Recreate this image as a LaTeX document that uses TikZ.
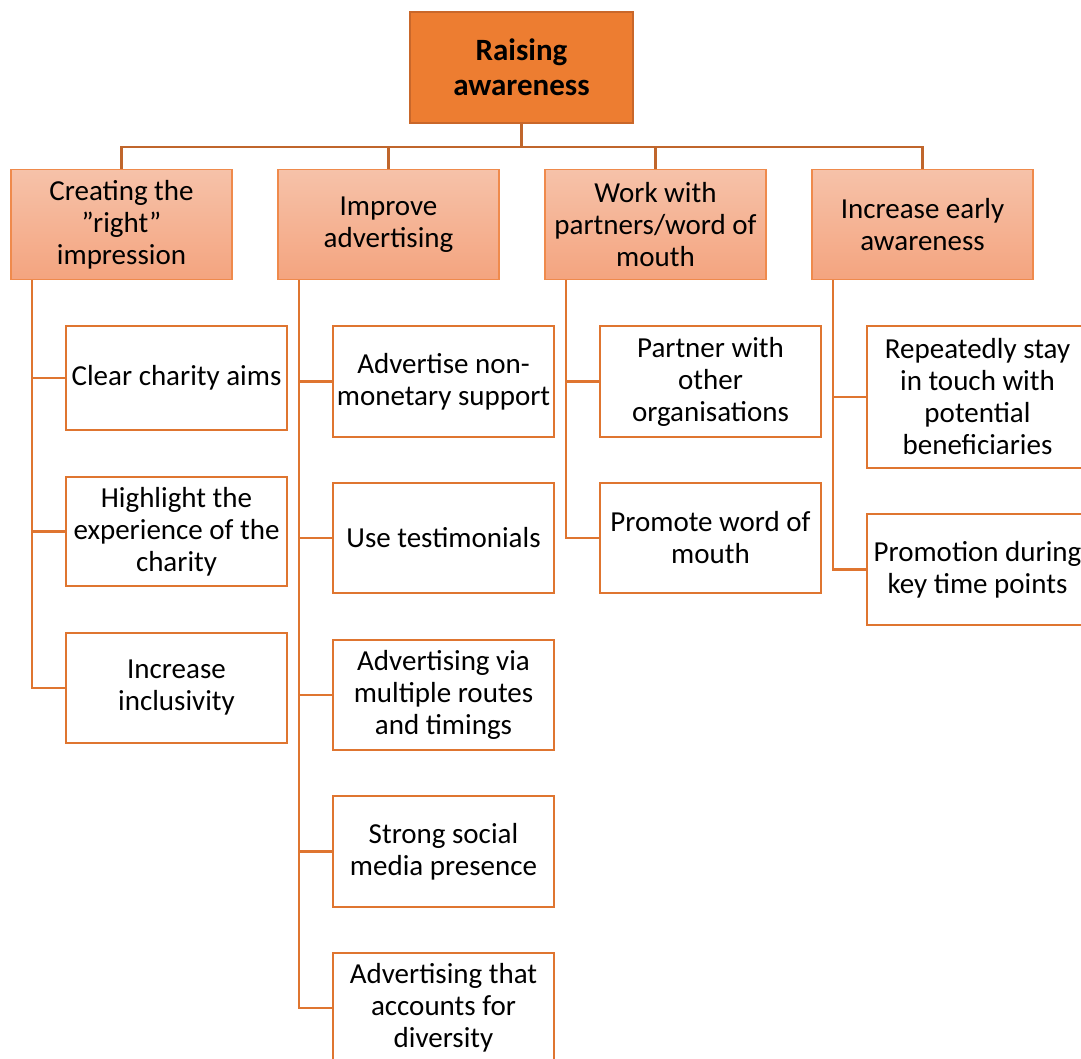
\documentclass[tikz,border=0pt]{standalone}
\usepackage{fontspec}
\setmainfont{Carlito}
\usetikzlibrary{calc}
\definecolor{topfill}{HTML}{ED7D31}
\definecolor{topline}{HTML}{C9672A}
\definecolor{barline}{HTML}{C0662C}
\definecolor{headtop}{HTML}{F6C2A9}
\definecolor{headbot}{HTML}{F4A47F}
\definecolor{headline}{HTML}{EF8A4C}
\definecolor{itemline}{HTML}{DF7530}
\newcommand{\sq}{\symbol{34}}
\tikzset{
  x=1pt, y=-1pt,
  rootbox/.style={draw=topline, line width=2pt, fill=topfill, minimum width=223pt,
    minimum height=111pt, inner sep=0pt, align=center,
    font=\fontsize{31}{35}\selectfont\bfseries},
  headbox/.style={draw=headline, line width=1.5pt, top color=headtop, bottom color=headbot,
    minimum width=221pt, minimum height=110pt, inner sep=0pt, align=center,
    font=\fontsize{29}{32}\selectfont},
  itembox/.style={draw=itemline, line width=2.4pt, fill=white, minimum width=221pt,
    inner sep=0pt, align=center, font=\fontsize{29}{32}\selectfont},
  topwire/.style={draw=barline, line width=2.4pt},
  itemwire/.style={draw=itemline, line width=2.4pt},
}
\begin{document}
\begin{tikzpicture}
\useasboundingbox (0,0) rectangle (1081,1058);
\clip (0,0) rectangle (1081,1058);
\fill[white] (0,0) rectangle (1081,1058);

% root
\node[rootbox] (root) at (521.5,67.5) {Raising\\awareness};

% second level
\node[headbox] (h1) at (121.5,224.5) {Creating the\\\sq right\sq\\impression};
\node[headbox] (h2) at (388.5,224.5) {Improve\\advertising};
\node[headbox] (h3) at (655.5,224.5) {Work with\\partners/word of\\mouth};
\node[headbox] (h4) at (922.5,224.5) {Increase early\\awareness};

% bar joining root to the headings
\coordinate (bar) at (521.5,147);
\draw[topwire] (root.south) -- (bar);
\foreach \h in {h1,h2,h3,h4}{
  \draw[topwire] (bar) -| (\h.north);
}

% column 1
\node[itembox, minimum height=104pt] (a1) at (176.5,378) {Clear charity aims};
\node[itembox, minimum height=109pt] (a2) at (176.5,531.5) {Highlight the\\experience of the\\charity};
\node[itembox, minimum height=110pt] (a3) at (176.5,688) {Increase\\inclusivity};

% column 2
\node[itembox, minimum height=111pt] (b1) at (443.5,381.5) {Advertise non-\\monetary support};
\node[itembox, minimum height=110pt] (b2) at (443.5,538) {Use testimonials};
\node[itembox, minimum height=110pt] (b3) at (443.5,695) {Advertising via\\multiple routes\\and timings};
\node[itembox, minimum height=111pt] (b4) at (443.5,851.5) {Strong social\\media presence};
\node[itembox, minimum height=110pt] (b5) at (443.5,1008) {Advertising that\\accounts for\\diversity};

% column 3
\node[itembox, minimum height=111pt] (c1) at (710.5,381.5) {Partner with\\other\\organisations};
\node[itembox, minimum height=110pt] (c2) at (710.5,538) {Promote word of\\mouth};

% column 4
\node[itembox, minimum height=142pt] (d1) at (977.5,397) {Repeatedly stay\\in touch with\\potential\\beneficiaries};
\node[itembox, minimum height=111pt] (d2) at (977.5,569.5) {Promotion during\\key time points};

% trunks hanging from each heading
\coordinate (ta) at ($(h1.south west)+(22,0)$);
\coordinate (tb) at ($(h2.south west)+(22,0)$);
\coordinate (tc) at ($(h3.south west)+(22,0)$);
\coordinate (td) at ($(h4.south west)+(22,0)$);
\foreach \n in {a1,a2,a3}{\draw[itemwire] (ta) |- (\n.west);}
\foreach \n in {b1,b2,b3,b4,b5}{\draw[itemwire] (tb) |- (\n.west);}
\foreach \n in {c1,c2}{\draw[itemwire] (tc) |- (\n.west);}
\foreach \n in {d1,d2}{\draw[itemwire] (td) |- (\n.west);}
\end{tikzpicture}
\end{document}
